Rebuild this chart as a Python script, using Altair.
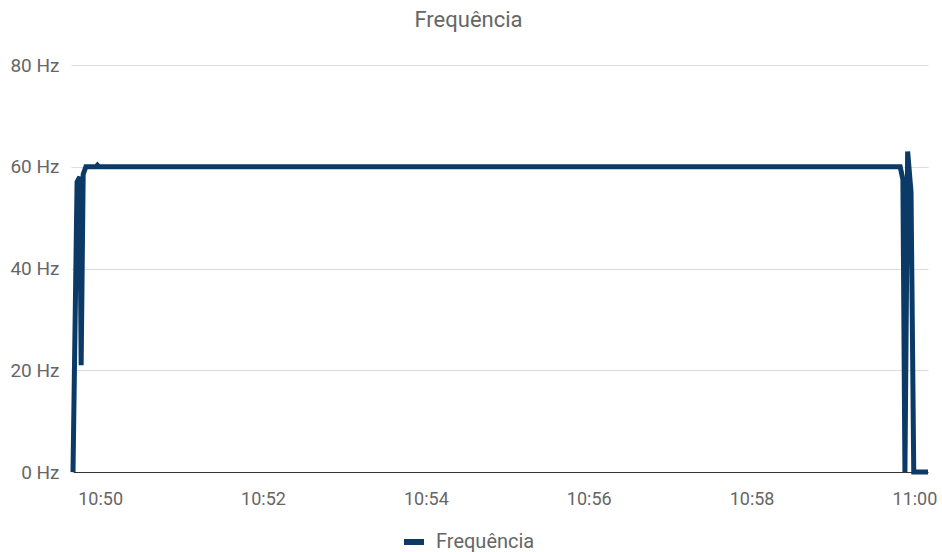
import altair as alt
import pandas as pd

# Data (time of day, frequency in Hz)
times = [
    "10:49:40", "10:49:43", "10:49:45", "10:49:46", "10:49:47.5", "10:49:49.5",
    "10:49:57", "10:49:58", "10:49:59",
    "10:59:49.5", "10:59:51.5", "10:59:53", "10:59:55", "10:59:57.5", "10:59:59.5",
    "11:00:10",
]
values = [
    0, 57, 58, 21, 58.5, 60,
    60, 60.3, 60,
    60, 57.5, 0, 63, 55, 0,
    0,
]
series = ["Frequência"] * len(times)

x_tick_labels = ["10:50", "10:52", "10:54", "10:56", "10:58", "11:00"]
y_ticks = [0, 20, 40, 60, 80]

DAY = "2024-01-01T"
df = pd.DataFrame({"t": [DAY + t for t in times], "v": values, "s": series})


def dt(hm, s=0):
    h, m = hm.split(":")
    return alt.DateTime(year=2024, month=1, date=1, hours=int(h), minutes=int(m), seconds=s)


x_values = [dt(t) for t in x_tick_labels]

FONT = "Roboto"
TXT = "#666666"

chart = alt.Chart(df).mark_line(strokeWidth=5).encode(
    x=alt.X(
        "t:T",
        scale=alt.Scale(domain=[dt("10:49", 40), dt("11:00", 10)]),
        axis=alt.Axis(
            title=None, format="%H:%M", values=x_values, grid=False, ticks=False,
            labelPadding=18, domainColor="#333333", domainWidth=1,
            labelFontSize=18, labelColor=TXT, labelFont=FONT,
        ),
    ),
    y=alt.Y(
        "v:Q",
        scale=alt.Scale(domain=[0, 80]),
        axis=alt.Axis(
            title=None, values=y_ticks, labelExpr="datum.value + ' Hz'",
            domain=False, tickColor="#dddddd", tickSize=2, gridColor="#dddddd",
            labelPadding=12, labelFontSize=19, labelColor=TXT, labelFont=FONT,
        ),
    ),
    color=alt.Color(
        "s:N",
        scale=alt.Scale(range=["#0b3a67"]),
        legend=alt.Legend(
            title=None, orient="none", legendX=328, legendY=464,
            symbolType="stroke", symbolStrokeWidth=6, symbolSize=400,
            labelOffset=9, labelFontSize=20, labelColor=TXT, labelFont=FONT,
        ),
    ),
).properties(
    width=855,
    height=407,
    title=alt.TitleParams(
        "Frequência", fontSize=22, color=TXT, font=FONT, fontWeight="normal",
        dx=-32, offset=24,
    ),
    padding={"left": 73, "top": 65, "right": 14, "bottom": 80},
    autosize=alt.AutoSizeParams(type="none"),
).configure_view(stroke=None)

chart.save("out.html", embed_options={"renderer": "svg", "actions": False})
